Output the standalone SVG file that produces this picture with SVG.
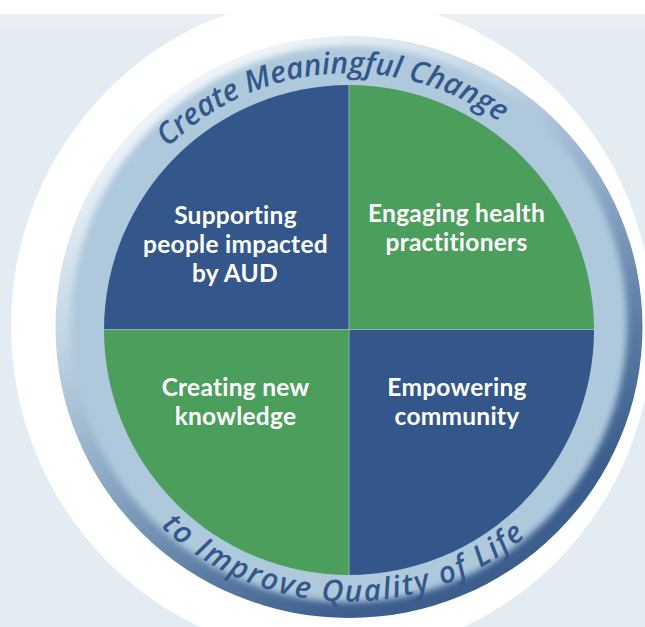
<svg xmlns="http://www.w3.org/2000/svg" width="645" height="627" viewBox="0 0 645 627">
<style>
.q{font:700 24.500px "Lato","Open Sans",sans-serif;fill:#fff;text-anchor:middle;letter-spacing:.25px;font-variant-ligatures:none}
.r{font:italic 600 30px "Open Sans","Noto Sans",sans-serif;fill:#33578a;font-variant-ligatures:none}
.blue{fill:#33578a}.green{fill:#4c9e5c}
</style>
<defs>
<linearGradient id="page" x1="0" y1="14" x2="0" y2="40" gradientUnits="userSpaceOnUse">
<stop offset="0" stop-color="#ecf1f6"/><stop offset="1" stop-color="#e3ebf3"/>
</linearGradient>
<linearGradient id="rim" gradientUnits="userSpaceOnUse" x1="203" y1="78" x2="495" y2="576">
<stop offset="0.02" stop-color="#eef3f7"/><stop offset="0.25" stop-color="#c5d8e6"/><stop offset="0.5" stop-color="#8fabc8"/><stop offset="0.75" stop-color="#5a7ca3"/><stop offset="0.93" stop-color="#3d5e8d"/>
</linearGradient>
<filter id="soft" x="-10%" y="-10%" width="120%" height="120%"><feGaussianBlur stdDeviation="3"/></filter>
<clipPath id="ringclip"><ellipse cx="349" cy="327" rx="293.500" ry="291"/></clipPath>
<path id="topArc" d="M 167.900 147.600 A 257 257 0 0 1 530 148"/>
<path id="botArc" d="M 160.800 526.400 A 272 272 0 0 0 545 518"/>
</defs>
<rect id="bg" x="0" y="14" width="645" height="613" fill="url(#page)"/>
<ellipse id="halo" cx="332" cy="326" rx="321" ry="330" fill="#fff"/>
<g id="ring">
<ellipse cx="349" cy="327" rx="293.500" ry="291" fill="url(#rim)"/>
<g clip-path="url(#ringclip)"><circle cx="349" cy="324" r="278" fill="#aec8dc" filter="url(#soft)"/></g>
</g>
<g id="node-supporting"><path class="blue" d="M349 330V85A245 245 0 0 0 104 330Z"/><text class="q" x="235.500" y="224">Supporting</text><text class="q" x="235.500" y="253">people impacted</text><text class="q" x="235" y="282">by AUD</text></g>
<g id="node-engaging"><path class="green" d="M349 330V85A245 245 0 0 1 594 330Z"/><text class="q" x="456.500" y="222">Engaging health</text><text class="q" x="456.500" y="251">practitioners</text></g>
<g id="node-creating"><path class="green" d="M349 330V575A245 245 0 0 1 104 330Z"/><text class="q" x="235.500" y="396">Creating new</text><text class="q" x="235.500" y="425">knowledge</text></g>
<g id="node-empowering"><path class="blue" d="M349 330V575A245 245 0 0 0 594 330Z"/><text class="q" x="457" y="396">Empowering</text><text class="q" x="457" y="425">community</text></g>
<g id="connectors" stroke="#8fb0b4" stroke-width="1"><path d="M104 329.500H594M349 85V575" fill="none"/></g>
<g id="ring-text">
<text class="r"><textPath href="#topArc" textLength="362" lengthAdjust="spacing">Create Meaningful Change</textPath></text>
<text class="r"><textPath href="#botArc" textLength="400" lengthAdjust="spacing">to Improve Quality of Life</textPath></text>
</g>
</svg>
